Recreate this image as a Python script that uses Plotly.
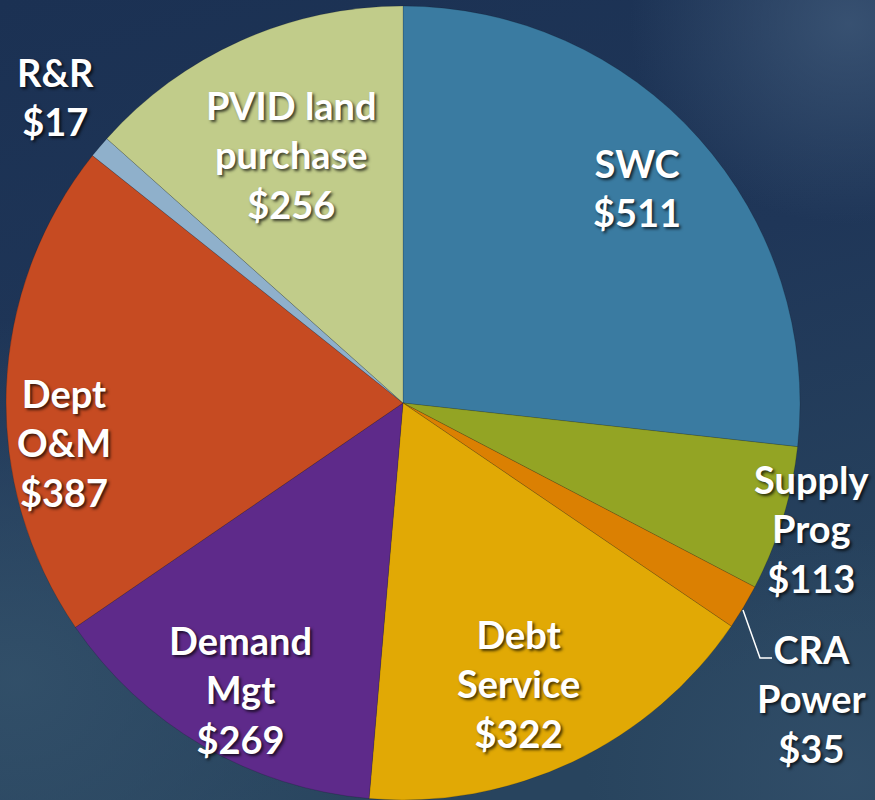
import base64
import plotly.graph_objects as go

# ---- data ----
categories = ["SWC", "Supply Prog", "CRA Power", "Debt Service", "Demand Mgt",
              "Dept O&M", "R&R", "PVID land purchase"]
values = [511, 113, 35, 322, 269, 387, 17, 256]
label_lines = [["SWC"], ["Supply", "Prog"], ["CRA", "Power"], ["Debt", "Service"],
               ["Demand", "Mgt"], ["Dept", "O&M"], ["R&R"], ["PVID land", "purchase"]]
colors = ["#3A7BA1", "#93A424", "#DB8002", "#E1A905", "#5E2A8A",
          "#C64B22", "#8FB0CB", "#C1CC8A"]

# label anchor positions (pixels, centre of text block)
label_pos = {
    "SWC": (637, 187), "Supply Prog": (812, 528), "CRA Power": (812, 698),
    "Debt Service": (518, 683), "Demand Mgt": (241, 689), "Dept O&M": (64, 442),
    "R&R": (55, 96), "PVID land purchase": (291, 155),
}

W, H = 875, 800

svg = f'''<svg xmlns="http://www.w3.org/2000/svg" width="{W}" height="{H}">
<defs>
<linearGradient id="g" x1="0" y1="0" x2="0.3" y2="1">
<stop offset="0" stop-color="#1b3153"/><stop offset="0.5" stop-color="#1f3658"/>
<stop offset="1" stop-color="#28445e"/></linearGradient>
<radialGradient id="r1" cx="0.97" cy="0.03" r="0.25">
<stop offset="0" stop-color="#3e5878" stop-opacity="0.8"/>
<stop offset="1" stop-color="#3e5878" stop-opacity="0"/></radialGradient>
<radialGradient id="r2" cx="0.02" cy="0.85" r="0.45">
<stop offset="0" stop-color="#33516a" stop-opacity="0.9"/>
<stop offset="1" stop-color="#33516a" stop-opacity="0"/></radialGradient>
<radialGradient id="r3" cx="0.97" cy="0.97" r="0.3">
<stop offset="0" stop-color="#33506b" stop-opacity="0.8"/>
<stop offset="1" stop-color="#33506b" stop-opacity="0"/></radialGradient>
</defs>
<rect width="100%" height="100%" fill="url(#g)"/>
<rect width="100%" height="100%" fill="url(#r1)"/>
<rect width="100%" height="100%" fill="url(#r2)"/>
<rect width="100%" height="100%" fill="url(#r3)"/>
</svg>'''
bg_src = "data:image/svg+xml;base64," + base64.b64encode(svg.encode()).decode()

cx, r = 403, 397
fig = go.Figure(go.Pie(
    labels=categories, values=values, sort=False, direction="clockwise",
    rotation=0, textinfo="none", hoverinfo="label+value",
    marker=dict(colors=colors, line=dict(color="rgba(0,0,0,0.25)", width=0.6)),
    domain=dict(x=[(cx - r) / W, (cx + r) / W], y=[0.0, 0.9925]),
    showlegend=False,
))

font = dict(family="Lato, 'Open Sans', sans-serif", size=38, color="white",
            weight="bold", shadow="2px 2px 3px rgba(0,0,0,0.7)")
for cat, lines, v in zip(categories, label_lines, values):
    px, py = label_pos[cat]
    text = "<br>".join(lines + [f"${v}"])
    fig.add_annotation(x=px / W, y=1 - py / H, xref="paper", yref="paper",
                       text=text, showarrow=False, font=font, align="center",
                       xanchor="center", yanchor="middle")

# leader line for CRA Power
fig.add_shape(type="path", xref="paper", yref="paper",
              path=f"M {743/W},{1-610/H} L {760/W},{1-658/H} L {772/W},{1-658/H}",
              line=dict(color="white", width=1.5))

fig.update_layout(
    width=W, height=H, margin=dict(l=0, r=0, t=0, b=0),
    paper_bgcolor="#1f3658", plot_bgcolor="rgba(0,0,0,0)",
    images=[dict(source=bg_src, xref="paper", yref="paper", x=0, y=1,
                 sizex=1, sizey=1, sizing="stretch", layer="below")],
)

fig.write_html("out.html", config={"displayModeBar": False},
               post_script="document.body.style.margin='0';"
                           "document.body.style.overflow='hidden';")
